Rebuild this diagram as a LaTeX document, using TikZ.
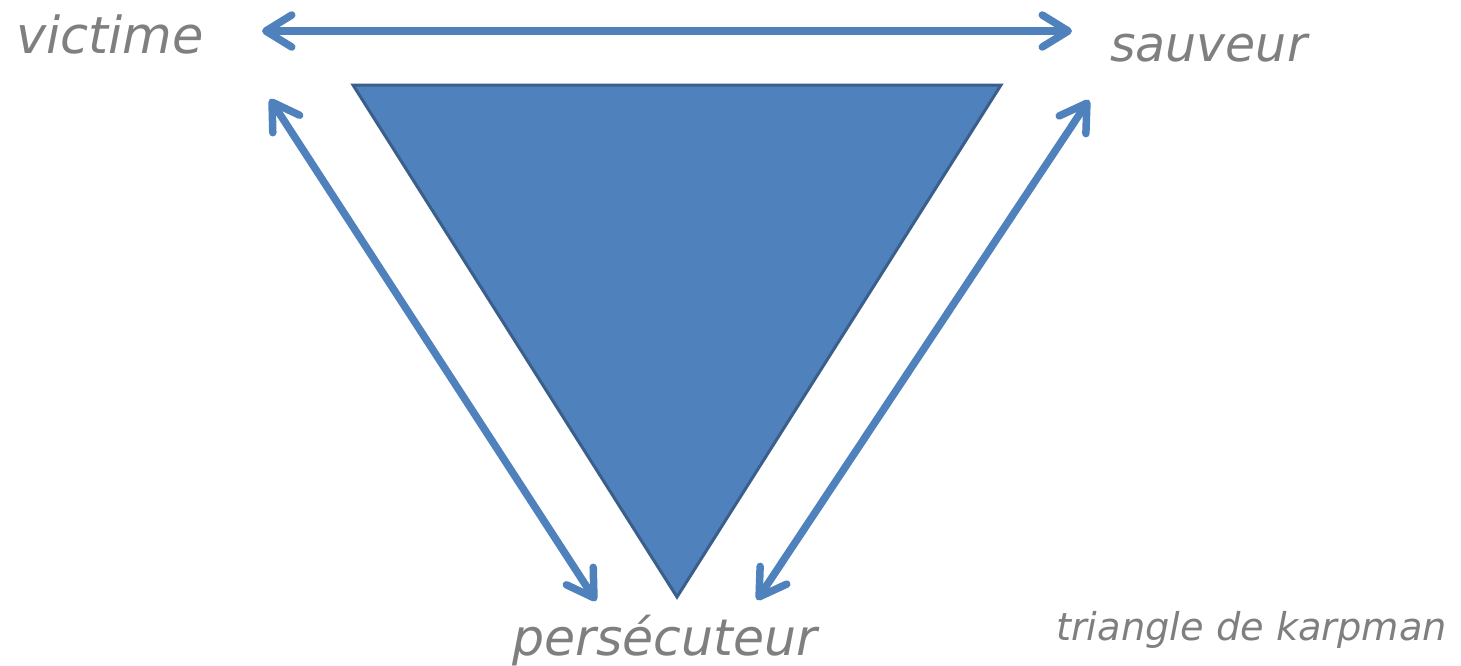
\documentclass[tikz,border=0pt]{standalone}
\usepackage{fontspec}
\setmainfont{DejaVu Sans}
\usetikzlibrary{arrows.meta}
\definecolor{arrowblue}{HTML}{4F81BD}
\definecolor{triborder}{HTML}{3A5F8B}
\definecolor{labelgray}{HTML}{7F7F7F}
\begin{document}
\begin{tikzpicture}[x=1pt,y=-1pt,
  role/.style={anchor=base west,inner sep=0pt,text=labelgray},
  note/.style={anchor=base west,inner sep=0pt,text=labelgray,font=\fontsize{38.3}{46}\selectfont\itshape},
  link/.style={draw=arrowblue,line width=7.5pt,
    {Straight Barb[length=26pt,width=32pt,round]}-{Straight Barb[length=26pt,width=32pt,round]}},
  tri/.style={fill=arrowblue,draw=triborder,line width=3pt,line join=miter}]
\useasboundingbox (0,0) rectangle (1461,665);
\node[role,font=\fontsize{51}{60}\selectfont\itshape] (vict) at (16,53) {victime};
\node[role,font=\fontsize{49}{58}\selectfont\itshape] (sauv) at (1110,61) {sauveur};
\node[role,font=\fontsize{50.5}{60}\selectfont\itshape] (pers) at (512,655) {persécuteur};
\node[note] (karp) at (1056,640) {triangle de karpman};
\coordinate (vh) at (262,31);
\coordinate (sh) at (1072,31);
\coordinate (vd) at (270,99);
\coordinate (pl) at (596,601);
\coordinate (sd) at (1089,100);
\coordinate (pr) at (757,600);
\coordinate (t1) at (353,85);
\coordinate (t2) at (1001,85);
\coordinate (t3) at (677,597);
\draw[link] (vh) -- (sh);
\draw[link] (vd) -- (pl);
\draw[link] (sd) -- (pr);
\path[tri] (t1) -- (t2) -- (t3) -- cycle;
\end{tikzpicture}
\end{document}
